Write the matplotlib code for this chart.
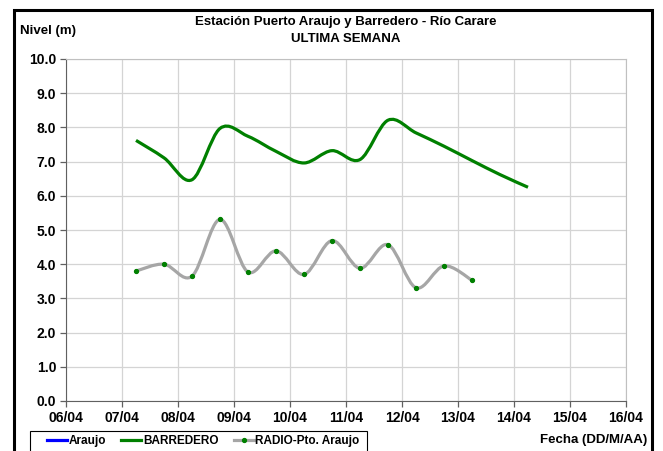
import datetime as dt
import matplotlib
matplotlib.use("Agg")
import matplotlib.pyplot as plt
import matplotlib.dates as mdates
from matplotlib.path import Path
from matplotlib.patches import PathPatch, Rectangle
from matplotlib.lines import Line2D
import numpy as np

plt.rcParams['font.family'] = ['Liberation Sans', 'DejaVu Sans']
plt.rcParams['font.weight'] = 'bold'

# ==== Datos (lecturas cada 12 h) ====
inicio = dt.datetime(2024, 4, 7, 6)
barredero = [7.62, 7.11, 6.47, 7.97, 7.74, 7.30, 6.96, 7.32, 7.06, 8.21, 7.84, 7.45, 7.03, 6.62, 6.25]
radio = [3.80, 4.00, 3.65, 5.31, 3.77, 4.39, 3.70, 4.69, 3.88, 4.57, 3.31, 3.95, 3.53]
araujo = []

fechas_b = [inicio + dt.timedelta(hours=12 * i) for i in range(len(barredero))]
fechas_r = [inicio + dt.timedelta(hours=12 * i) for i in range(len(radio))]


def curva_suave(x, y):
    # linea suavizada tipo Excel (Bezier con tangentes Catmull-Rom)
    x = np.asarray(x, float)
    y = np.asarray(y, float)
    pts = np.column_stack([x, y])
    verts = [pts[0]]
    codes = [Path.MOVETO]
    n = len(pts)
    for i in range(n - 1):
        p0 = pts[max(i - 1, 0)]
        p1 = pts[i]
        p2 = pts[i + 1]
        p3 = pts[min(i + 2, n - 1)]
        verts += [p1 + (p2 - p0) / 6, p2 - (p3 - p1) / 6, p2]
        codes += [Path.CURVE4] * 3
    return Path(verts, codes)


fig = plt.figure(figsize=(6.63, 4.51), dpi=100)
ax = fig.add_axes([66 / 663, 1 - 401 / 451, 560 / 663, 342 / 451])

xb = mdates.date2num(fechas_b)
xr = mdates.date2num(fechas_r)

ax.add_patch(PathPatch(curva_suave(xb, barredero), fill=False, edgecolor='#008000', lw=2.3, zorder=3))
ax.add_patch(PathPatch(curva_suave(xr, radio), fill=False, edgecolor='#a6a6a6', lw=2.3, zorder=3))
ax.plot(fechas_r, radio, ls='none', marker='o', ms=2.8, color='#008000', zorder=4)

ax.set_xlim(dt.datetime(2024, 4, 6), dt.datetime(2024, 4, 16))
ax.set_ylim(0, 10)
ax.xaxis.set_major_locator(mdates.DayLocator())
ax.xaxis.set_major_formatter(mdates.DateFormatter('%d/%m'))
ax.set_yticks(np.arange(0, 10.1, 1.0))
ax.yaxis.set_major_formatter(matplotlib.ticker.FormatStrFormatter('%.1f'))
ax.grid(True, color='#d4d4d4', lw=0.9)
ax.set_axisbelow(True)
for s in ['top', 'right']:
    ax.spines[s].set_color('#c0c0c0')
for s in ['left', 'bottom']:
    ax.spines[s].set_color('#606060')
ax.tick_params(direction='out', length=4, width=0.9, color='#606060', labelsize=10, pad=3)
for lab in ax.get_xticklabels() + ax.get_yticklabels():
    lab.set_fontweight('bold')

fig.text(346 / 663, 1 - 22 / 451, 'Estación Puerto Araujo y Barredero - Río Carare', ha='center', va='center',
         fontsize=9.5, fontweight='bold')
fig.text(346 / 663, 1 - 39 / 451, 'ULTIMA SEMANA', ha='center', va='center', fontsize=9.5, fontweight='bold')
fig.text(20 / 663, 1 - 31 / 451, 'Nivel (m)', ha='left', va='center', fontsize=9.5, fontweight='bold')
fig.text(647 / 663, 1 - 440 / 451, 'Fecha (DD/M/AA)', ha='right', va='center', fontsize=9.5, fontweight='bold')

# marco exterior
fig.patches.append(Rectangle((14 / 663, -0.05), 638 / 663, 1.05 - 10 / 451, transform=fig.transFigure,
                             fill=False, edgecolor='black', lw=2.2))
# caja de la leyenda
fig.patches.append(Rectangle((30 / 663, -0.05), 337 / 663, 0.05 + 20 / 451, transform=fig.transFigure,
                             fill=False, edgecolor='black', lw=0.8))

handles = [
    Line2D([], [], color='#0000ff', lw=2.3),
    Line2D([], [], color='#008000', lw=2.3),
    Line2D([], [], color='#a6a6a6', lw=2.3, marker='o', ms=2.8, mfc='#008000', mec='#008000'),
]
leg = fig.legend(handles, ['Araujo', 'BARREDERO', 'RADIO-Pto. Araujo'], loc='center left',
                 bbox_to_anchor=(47 / 663, 1 - 441 / 451), ncol=3, frameon=False,
                 fontsize=8.5, handlelength=1.7, handletextpad=0.12, columnspacing=1.3,
                 borderpad=0, borderaxespad=0)
for t in leg.get_texts():
    t.set_fontweight('bold')

fig.savefig('out.png', dpi=100)
